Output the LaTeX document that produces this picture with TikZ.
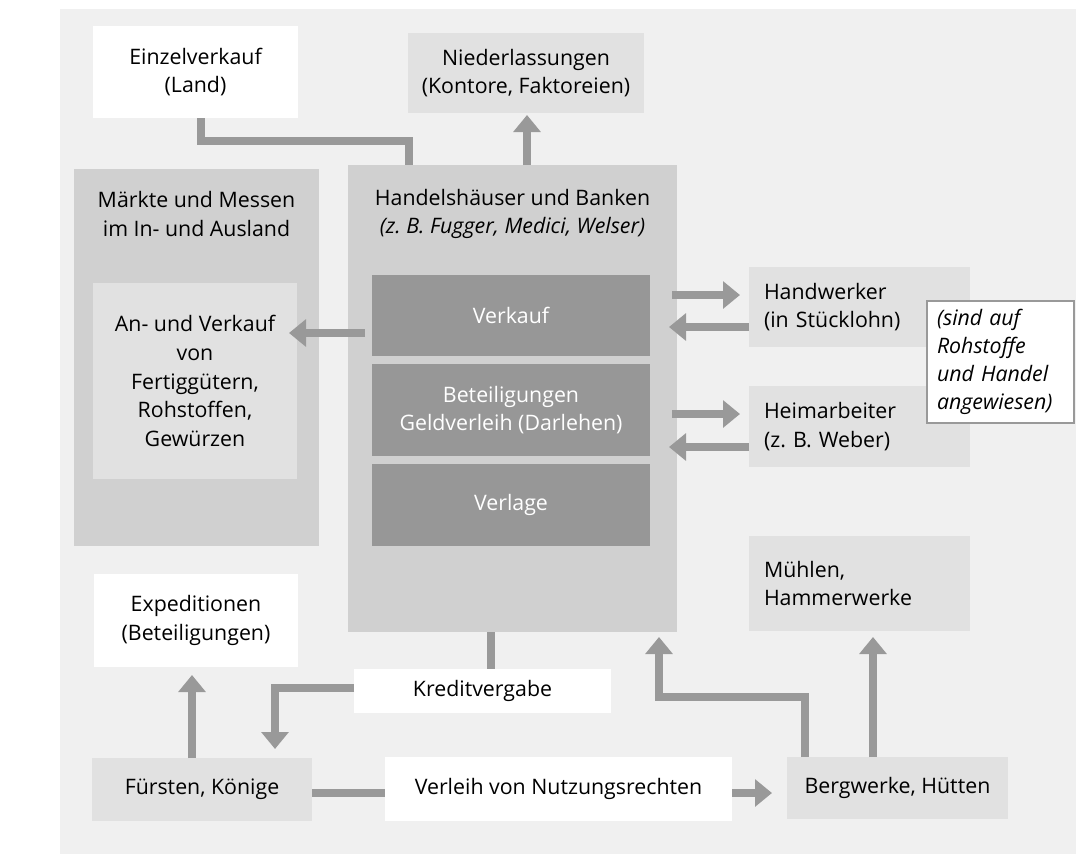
\documentclass[tikz,border=0pt]{standalone}
\usepackage{fontspec}
\setmainfont{Open Sans}
\usetikzlibrary{arrows.meta,calc}
\definecolor{bgc}{HTML}{F0F0F0}
\definecolor{midc}{HTML}{D0D0D0}
\definecolor{lightc}{HTML}{E1E1E1}
\definecolor{darkc}{HTML}{979797}
\definecolor{linec}{HTML}{999999}
\begin{document}
\begin{tikzpicture}[x=0.75pt,y=-0.75pt,
  font=\fontsize{16pt}{21.5pt}\selectfont,
  box/.style={inner sep=0pt, outer sep=0pt, align=center},
  wh/.style 2 args={minimum width=#1*0.75pt, minimum height=#2*0.75pt},
  whitebox/.style={box, fill=white},
  lightbox/.style={box, fill=lightc},
  midbox/.style={box, fill=midc},
  darkbox/.style={box, fill=darkc, text=white},
  leftbox/.style={lightbox, text width=143.25pt, align=left},
  itfont/.style={font=\fontsize{16pt}{21pt}\selectfont\itshape},
  conn/.style={draw=linec, line width=6pt},
  arr/.style={conn, -{Triangle[length=12.75pt,width=20pt]}},
]
\useasboundingbox (0,0) rectangle (1076,854);
\fill[bgc] (60,9) rectangle (1076,854);

% top
\node[whitebox, wh={205}{92}] (ev) at (195.5,72) {Einzelverkauf\\(Land)};
\node[lightbox, wh={236}{80}] (nl) at (526,73) {Niederlassungen\\(Kontore, Faktoreien)};

% Maerkte
\node[midbox, wh={245}{377}] (mk) at (196.5,357.5) {};
\node[box] (mkt) at (196.5,214) {Märkte und Messen\\im In- und Ausland};
\node[lightbox, wh={204}{196}] (av) at (195,381) {An- und Verkauf\\von\\Fertiggütern,\\Rohstoffen,\\Gewürzen};

% Handelshaeuser
\node[midbox, wh={329}{467}] (hh) at (512.5,398.5) {};
\node[box] (hht) at (512.5,214) {Handelshäuser und Banken\\\textit{(z.\ B. Fugger, Medici, Welser)}};
\node[darkbox, wh={278}{81}] (vk) at (511,315.5) {Verkauf};
\node[darkbox, wh={278}{92}] (bt) at (511,410) {Beteiligungen\\Geldverleih (Darlehen)};
\node[darkbox, wh={278}{82}] (vg) at (511,505) {Verlage};

% right side
\node[leftbox, wh={221}{80}] (hw) at (859.5,307) {Handwerker\\(in Stücklohn)};
\node[leftbox, wh={221}{81}] (hm) at (859.5,426.5) {Heimarbeiter\\(z.\ B. Weber)};
\node[box, fill=white, draw=linec, line width=1.5pt, wh={147}{122}, text width=95.25pt, align=left, itfont] (nt) at (1000.5,362) {(sind auf\\Rohstoffe\\und Handel\\angewiesen)};
\node[leftbox, wh={221}{95}] (mh) at (859.5,583.5) {Mühlen,\\Hammerwerke};

% bottom
\node[whitebox, wh={204}{93}] (ex) at (196,620.5) {Expeditionen\\(Beteiligungen)};
\node[whitebox, wh={257}{44}] (kv) at (482.5,691) {Kreditvergabe};
\node[lightbox, wh={220}{63}] (fk) at (202,789.5) {Fürsten, Könige};
\node[whitebox, wh={347}{64}] (vn) at (558.5,789) {Verleih von Nutzungsrechten};
\node[lightbox, wh={221}{62}] (bw) at (897.5,788) {Bergwerke, Hütten};

% connectors
\draw[conn] (ev.south -| 201,0) |- (409,141) -- (hh.north -| 409,0);
\draw[arr, shorten >=1.5pt] (hh.north -| 527,0) -- (nl.south -| 527,0);
\draw[arr, shorten <=5.25pt, shorten >=-6pt] (vk.west |- 0,333) -- (av.east |- 0,333);
\draw[arr, shorten <=-3.75pt, shorten >=6.75pt] (hh.east |- 0,295) -- (hw.west |- 0,295);
\draw[arr, shorten >=-6pt] (hw.west |- 0,327) -- (hh.east |- 0,327);
\draw[arr, shorten <=-3.75pt, shorten >=6.75pt] (hh.east |- 0,414) -- (hm.west |- 0,414);
\draw[arr, shorten >=-6pt] (hm.west |- 0,447) -- (hh.east |- 0,447);
\draw[conn] (hh.south -| 491,0) -- (kv.north -| 491,0);
\draw[arr, shorten >=6.75pt] (kv.west |- 0,688) -| (fk.north -| 275,0);
\draw[arr, shorten >=6pt] (fk.north -| 192,0) -- (ex.south -| 192,0);
\draw[conn] (fk.east |- 0,793) -- (vn.west |- 0,793);
\draw[arr, shorten >=11.25pt] (vn.east |- 0,793) -- (bw.west |- 0,793);
\draw[arr, shorten >=3.75pt] (bw.north -| 805,0) |- (659,697) -- (hh.south -| 659,0);
\draw[arr, shorten >=4.5pt] (bw.north -| 873,0) -- (mh.south -| 873,0);
\end{tikzpicture}
\end{document}
